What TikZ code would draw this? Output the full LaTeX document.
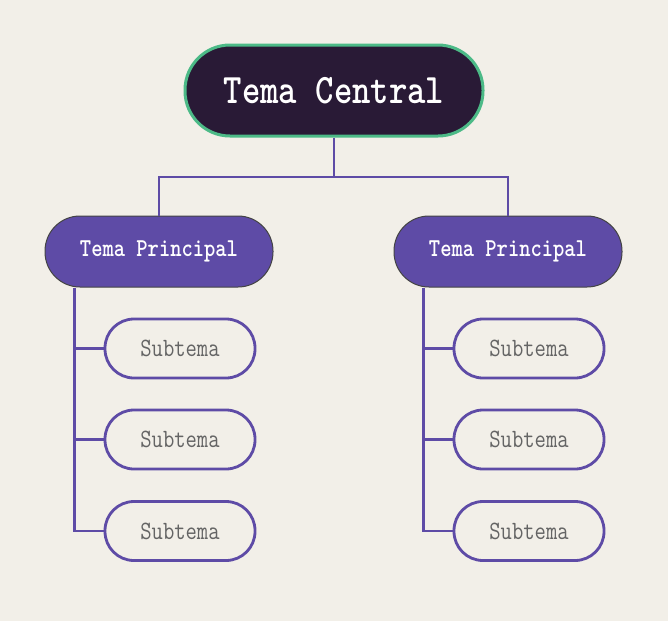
\documentclass[tikz,border=0pt]{standalone}
\usepackage{tikz}
\usepackage{graphicx}
\usetikzlibrary{positioning,calc}
\definecolor{fondo}{RGB}{242, 239, 232}
\definecolor{centralfill}{RGB}{41, 26, 54}
\definecolor{centralborde}{RGB}{76, 186, 135}
\definecolor{morado}{RGB}{94, 75, 166}
\definecolor{bordegris}{RGB}{68, 68, 68}
\definecolor{textogris}{RGB}{100, 100, 100}
% texto algo mas alto que ancho
\newcommand{\alto}[1]{\scalebox{1}[1.2]{#1}}
\tikzset{
  % Nodo central
  central/.style   = {rectangle, rounded corners=45pt, minimum width=298pt,
                      minimum height=91pt, inner sep=0pt, fill=centralfill,
                      draw=centralborde, line width=3pt, text=white,
                      font=\ttfamily\bfseries\fontsize{35}{38}\selectfont},
  % Temas principales
  principal/.style = {rectangle, rounded corners=35pt, minimum width=228pt,
                      minimum height=71pt, inner sep=0pt, fill=morado,
                      draw=bordegris, line width=1pt, text=white,
                      font=\ttfamily\bfseries\fontsize{21.5}{24}\selectfont},
  % Subtemas
  subtema/.style   = {rectangle, rounded corners=29pt, minimum width=150pt,
                      minimum height=59pt, inner sep=0pt, fill=fondo,
                      draw=morado, line width=2.8pt, text=textogris,
                      font=\ttfamily\fontsize{22}{24}\selectfont},
  % Conectores
  conn/.style      = {draw=morado, line width=2.5pt},
}
\begin{document}
\begin{tikzpicture}[x=1pt, y=-1pt]
  \fill[fondo] (0,0) rectangle (668,621);
  \useasboundingbox (0,0) rectangle (668,621);
  % nodos
  \node[central] (c) at (334,90.5) {\alto{Tema Central}};
  \node[principal] (p1) at (159,251.5) {\alto{Tema Principal}};
  \node[principal] (p2) at (508,251.5) {\alto{Tema Principal}};
  \foreach \i/\y in {1/348.5, 2/439.5, 3/531} {
    \node[subtema] (s1\i) at (180,\y) {\alto{Subtema}};
    \node[subtema] (s2\i) at (529,\y) {\alto{Subtema}};
  }
  % conectores
  \coordinate (bus) at (334,177);
  \draw[conn] (c.south) -- (bus);
  \draw[conn] (bus) -| (p1.north);
  \draw[conn] (bus) -| (p2.north);
  \coordinate (t1) at ([xshift=30]p1.south west);
  \coordinate (t2) at ([xshift=30]p2.south west);
  \draw[conn] (t1) |- (s13.west);
  \draw[conn] (t2) |- (s23.west);
  \foreach \i in {1,2} {
    \draw[conn] (s1\i.west) -- (s1\i.west -| t1);
    \draw[conn] (s2\i.west) -- (s2\i.west -| t2);
  }
\end{tikzpicture}
\end{document}
